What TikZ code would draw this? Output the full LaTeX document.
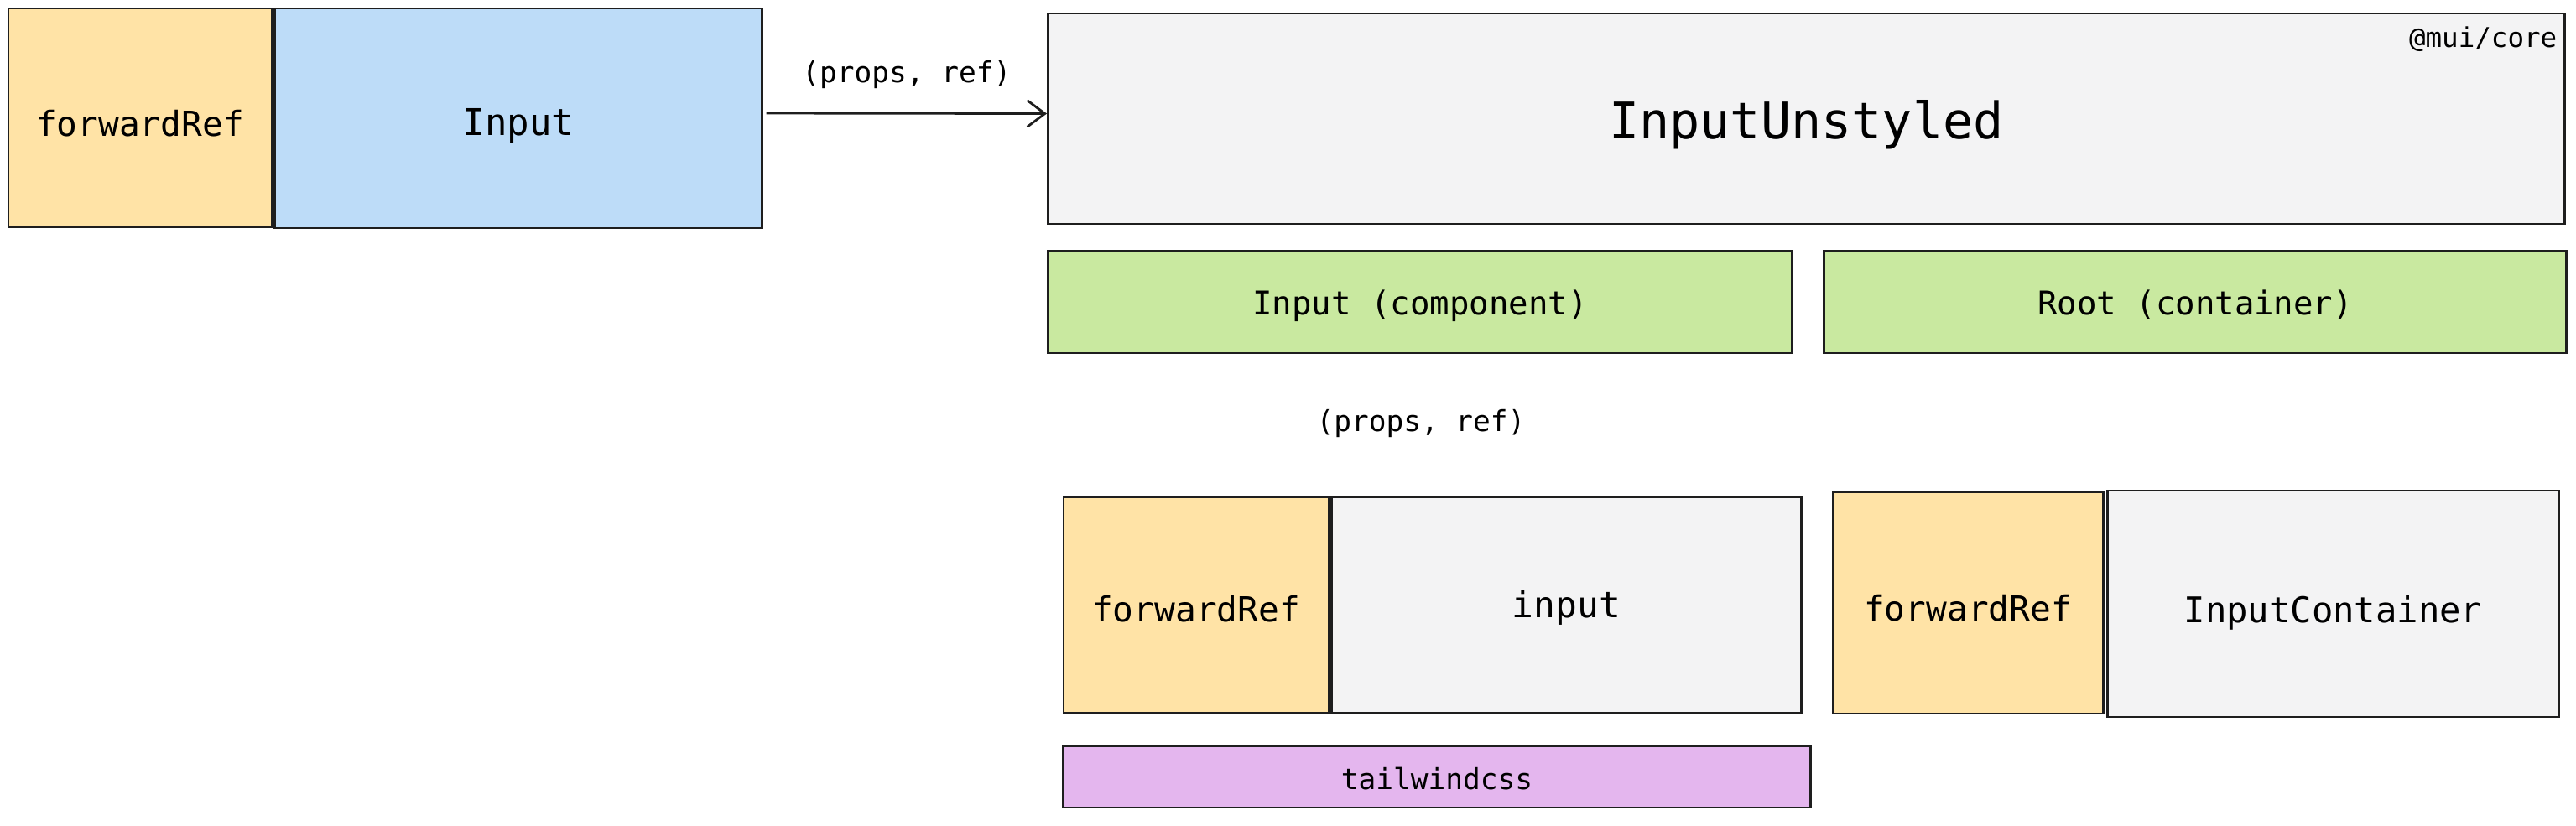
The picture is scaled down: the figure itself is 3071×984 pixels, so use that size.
\documentclass[tikz,border=0pt]{standalone}
\usepackage{fontspec}
\setmonofont{DejaVu Sans Mono}
\usetikzlibrary{arrows.meta,calc}
\definecolor{ylw}{HTML}{FFE3A6}
\definecolor{blu}{HTML}{BDDCF8}
\definecolor{gry}{HTML}{F3F3F4}
\definecolor{grn}{HTML}{C9E9A0}
\definecolor{prp}{HTML}{E4B6EE}
\definecolor{ink}{HTML}{1E1E1E}
\tikzset{
  box/.style={draw=ink, line width=0.8pt, inner sep=0pt, text=black},
  fs/.style n args={3}{font=\ttfamily\fontsize{#1}{#1}\selectfont, text height=#2, text depth=#3},
  lbl/.style={font=\ttfamily\fontsize{9.8}{12}\selectfont, text=black, inner sep=0pt},
  arr/.style={draw=ink, line width=0.8pt, -{Straight Barb[length=6pt,width=9pt,line width=0.8pt]}}
}
\begin{document}
\begin{tikzpicture}[x=0.01cm,y=-0.01cm]
\useasboundingbox (0,0) rectangle (3071,984);
% top row
\node[box, fill=ylw, minimum width=3.14cm, minimum height=2.61cm, fs={11.7}{15.1pt}{2.8pt}] (fr1) at (167,140.5) {forwardRef};
\node[box, fill=blu, minimum width=5.80cm, minimum height=2.62cm, fs={12.5}{14.8pt}{3.0pt}] (inp) at (618,141) {Input};
\node[box, fill=gry, minimum width=18.07cm, minimum height=2.51cm, fs={17.1}{18.0pt}{4.1pt}] (iu) at (2153.5,141.5) {InputUnstyled};
\node[anchor=east, font=\ttfamily\fontsize{9.25}{11}\selectfont, inner sep=0pt] (mui) at (3049,47) {@mui/core};
% arrow
\draw[arr] ($(inp.east)+(4,-6)$) -- ($(iu.west)+(0,-6)$) node[midway, above=0.28cm, lbl] (lbl1) {(props, ref)};
% second row
\node[box, fill=grn, minimum width=8.86cm, minimum height=1.22cm, fs={11.1}{11.5pt}{2.7pt}] (ic) at (1693,360) {Input (component)};
\node[box, fill=grn, minimum width=8.84cm, minimum height=1.22cm, fs={11.1}{11.5pt}{2.7pt}] (root) at (2617,360) {Root (container)};
\node[lbl] (lbl2) at (1694,505) {(props, ref)};
% third row
\node[box, fill=ylw, minimum width=3.16cm, minimum height=2.57cm, fs={11.7}{14.2pt}{2.8pt}] (fr2) at (1426,721.5) {forwardRef};
\node[box, fill=gry, minimum width=5.59cm, minimum height=2.57cm, fs={12.2}{11.6pt}{2.9pt}] (input) at (1867.5,721.5) {input};
\node[box, fill=ylw, minimum width=3.22cm, minimum height=2.64cm, fs={11.7}{14.8pt}{2.8pt}] (fr3) at (2346,719) {forwardRef};
\node[box, fill=gry, minimum width=5.37cm, minimum height=2.70cm, fs={12}{15.8pt}{2.9pt}] (icont) at (2781.5,720) {InputContainer};
% bottom
\node[box, fill=prp, minimum width=8.90cm, minimum height=0.73cm, fs={9.8}{10.8pt}{2.4pt}] (tw) at (1713,926.5) {tailwindcss};
\end{tikzpicture}
\end{document}
